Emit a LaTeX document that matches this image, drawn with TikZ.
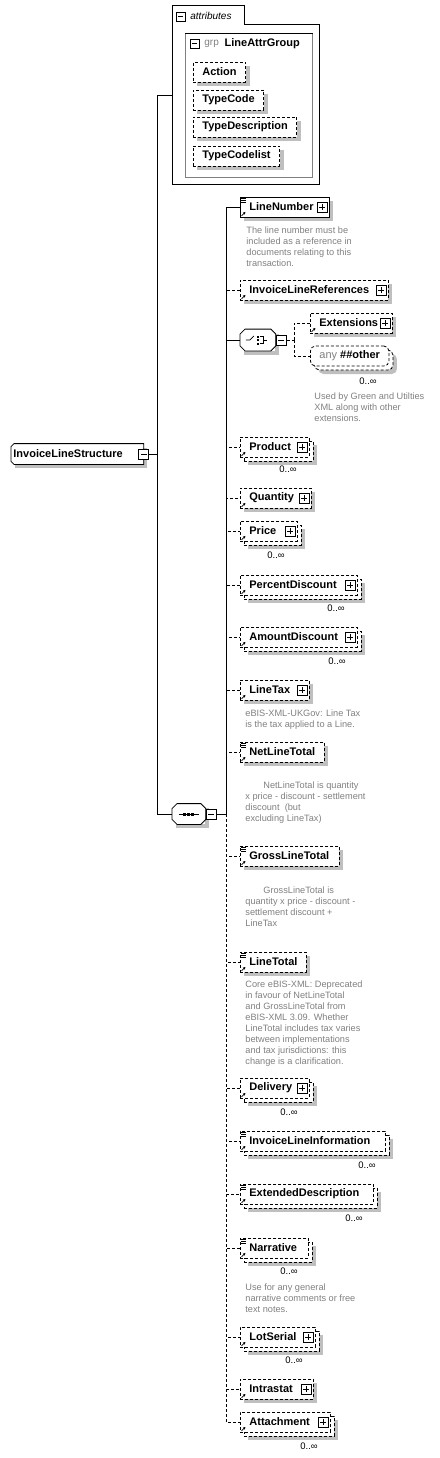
\documentclass[tikz,border=0pt]{standalone}
\usepackage{fontspec}
\setmainfont{Liberation Sans}
\usetikzlibrary{positioning,shadows,arrows.meta}

\tikzset{
    elem/.style={draw, fill=white, anchor=west, minimum height=20pt, inner xsep=9pt, inner ysep=0pt,
        align=left, font=\bfseries\fontsize{11}{13}\selectfont,
        drop shadow={shadow xshift=4pt, shadow yshift=-4pt, fill=black!25, opacity=1}},
    opt/.style={dash pattern=on 3pt off 2pt},
    multi/.style={drop shadow={shadow xshift=8pt, shadow yshift=-8pt, fill=black!25, opacity=1},
        copy shadow={shadow xshift=4pt, shadow yshift=-4pt, opacity=1}},
    minusbox/.style={draw, fill=white, minimum size=10pt, inner sep=0pt, path picture={
        \draw ([xshift=2pt]path picture bounding box.west) -- ([xshift=-2pt]path picture bounding box.east);}},
    plusbox/.style={draw, fill=white, minimum size=10pt, inner sep=0pt, path picture={
        \draw ([xshift=2pt]path picture bounding box.west) -- ([xshift=-2pt]path picture bounding box.east);
        \draw ([yshift=2pt]path picture bounding box.south) -- ([yshift=-2pt]path picture bounding box.north);}},
    compositor/.style={fill=white, anchor=west, inner sep=0pt,
        drop shadow={shadow xshift=4pt, shadow yshift=-4pt, fill=black!25, opacity=1}},
    occ/.style={inner sep=0pt, font=\fontsize{9.5}{11}\selectfont},
    note/.style={anchor=north west, inner sep=0pt, align=left, text=black!50, font=\fontsize{9.2}{11}\selectfont}
}

\begin{document}
\begin{tikzpicture}[x=1pt,y=-1pt,line width=0.8pt]
    \useasboundingbox (0,0) rectangle (439,1458);

    % root element
    \node[compositor, minimum height=20pt, text width=128pt, inner xsep=2pt, align=left,
        font=\bfseries\fontsize{11}{13}\selectfont] (root) at (11,454) {InvoiceLineStructure};
    \draw ([xshift=3pt]root.north west) -- (root.north east) -- (root.south east)
        -- ([xshift=3pt]root.south west) -- ([yshift=3pt]root.south west) -- ([yshift=-3pt]root.north west) -- cycle;
    \node[minusbox] (rootminus) at (root.east) {};
    \coordinate (rootfork) at (157,454);

    % attributes
    \draw (172,5) -- (244,5) -- (244,24) -- (319,24) -- (319,184) -- (172,184) -- cycle;
    \coordinate (attrpin) at (172,95);
    \node[minusbox, minimum size=9pt] (attrminus) at (180.5,16.5) {};
    \node[anchor=west, inner sep=0pt, font=\itshape\fontsize{10}{12}\selectfont] (attrlabel) at (190,15.5) {attributes};
    \node[draw=black!50, minimum width=127pt, minimum height=144pt, anchor=north west, inner sep=0pt] (grp) at (185,33) {};
    \draw (grp.north west) -- (grp.north east);
    \node[minusbox, minimum size=9pt] (grpminus) at (194.5,43.5) {};
    \node[anchor=west, inner sep=0pt, text=black!50, font=\fontsize{10}{12}\selectfont] (grplabel) at (204,43.5) {grp};
    \node[right=5pt of grplabel, inner sep=0pt, font=\bfseries\fontsize{11}{13}\selectfont] (grpname) {LineAttrGroup};
    \node[elem, opt] (action) at (193,72) {Action};
    \node[elem, opt] (typecode) at (193,100) {TypeCode};
    \node[elem, opt] (typedesc) at (193,127) {TypeDescription};
    \node[elem, opt] (typecodelist) at (193,156) {TypeCodelist};

    % sequence
    \node[compositor, minimum width=33pt, minimum height=20pt] (seq) at (172,814) {};
    \draw ([xshift=5pt]seq.north west) -- ([xshift=-5pt]seq.north east) -- ([yshift=-5pt]seq.north east)
        -- ([yshift=5pt]seq.south east) -- ([xshift=-5pt]seq.south east) -- ([xshift=5pt]seq.south west)
        -- ([yshift=5pt]seq.south west) -- ([yshift=-5pt]seq.north west) -- cycle;
    \draw ([xshift=-10pt]seq.center) -- ([xshift=10pt]seq.center);
    \foreach \dx in {-4,0,4}
        \fill ([xshift=\dx pt]seq.center) +(-1.5pt,-1.5pt) rectangle +(1.5pt,1.5pt);
    \node[minusbox, right=0pt of seq] (seqminus) {};
    \coordinate (seqfork) at (226,814);

    \draw (rootminus.east) -- (rootfork);
    \draw (rootfork) |- (attrpin);
    \draw (rootfork) |- (seq.west);
    \draw (seqminus.east) -- (seqfork);

    % children of the sequence
    \node[elem, text width=71pt] (linenumber) at (240,207) {LineNumber};
    \node[elem, opt, text width=130pt] (invlinerefs) at (240,290) {InvoiceLineReferences};

    \node[compositor, minimum width=35pt, minimum height=21pt] (choice) at (240,340) {};
    \draw ([xshift=5pt]choice.north west) -- ([xshift=-5pt]choice.north east) -- ([yshift=-5pt]choice.north east)
        -- ([yshift=5pt]choice.south east) -- ([xshift=-5pt]choice.south east) -- ([xshift=5pt]choice.south west)
        -- ([yshift=5pt]choice.south west) -- ([yshift=-5pt]choice.north west) -- cycle;
    \draw ([xshift=-12pt]choice.center) -- +(4pt,0) -- +(8pt,4pt);
    \foreach \dy in {3.5,0,-3.5}
        \fill ([shift={(0pt,\dy pt)}]choice.center) +(-1pt,-1pt) rectangle +(1pt,1pt);
    \draw ([shift={(2pt,3.5pt)}]choice.center) -- +(3pt,0) -- +(3pt,-7pt) -- +(0,-7pt);
    \draw ([xshift=5pt]choice.center) -- +(4pt,0);
    \node[minusbox, right=0pt of choice] (choiceminus) {};
    \coordinate (choicefork) at (294,340);
    \node[elem, opt, text width=64pt] (extensions) at (310,323) {Extensions};
    \node[elem, opt, multi, rounded corners=5pt, minimum width=78pt, align=center]
        (anyother) at (310,356) {\textcolor{black!50}{\mdseries any} \#\#other};

    \node[elem, opt, multi, text width=51pt] (product) at (240,447) {Product};
    \node[elem, opt, text width=53pt] (quantity) at (240,498) {Quantity};
    \node[elem, opt, multi, text width=39pt] (price) at (240,531) {Price};
    \node[elem, opt, multi, text width=99pt] (percentdisc) at (240,585) {PercentDiscount};
    \node[elem, opt, multi, text width=99pt] (amountdisc) at (240,637) {AmountDiscount};
    \node[elem, opt, text width=51pt] (linetax) at (240,690) {LineTax};
    \node[elem, opt, text width=66pt] (netlinetotal) at (240,752) {NetLineTotal};
    \node[elem, opt, text width=81pt] (grosslinetotal) at (240,856) {GrossLineTotal};
    \node[elem, opt, text width=48pt] (linetotal) at (240,962) {LineTotal};
    \node[elem, opt, multi, text width=51pt] (delivery) at (240,1088) {Delivery};
    \node[elem, opt, multi, text width=127pt] (invlineinfo) at (240,1141) {InvoiceLineInformation};
    \node[elem, opt, multi, text width=115pt] (extdesc) at (240,1194) {ExtendedDescription};
    \node[elem, opt, multi, text width=50pt] (narrative) at (240,1248) {Narrative};
    \node[elem, opt, multi, text width=57pt] (lotserial) at (240,1337) {LotSerial};
    \node[elem, opt, text width=55pt] (intrastat) at (240,1389) {Intrastat};
    \node[elem, opt, multi, text width=72pt] (attachment) at (240,1422) {Attachment};

    % expand boxes
    \foreach \n in {linenumber,invlinerefs,extensions,product,quantity,price,percentdisc,amountdisc,
        linetax,delivery,lotserial,intrastat,attachment}
        \node[plusbox, left=2pt of \n.east] (\n plus) {};

    % reference and content icons
    \foreach \n in {linenumber,invlinerefs,extensions,product,quantity,price,percentdisc,amountdisc,
        linetax,netlinetotal,grosslinetotal,linetotal,delivery,invlineinfo,extdesc,narrative,
        lotserial,intrastat,attachment}
        \draw[line width=0.7pt, -{Triangle[length=2.5pt,width=2.5pt]}] ([shift={(1.5pt,1.5pt)}]\n.south west) -- +(4pt,4pt);
    \foreach \n in {linenumber,netlinetotal,grosslinetotal,linetotal,invlineinfo,extdesc,narrative}
        \foreach \k in {2,4,6}
            \draw[line width=0.6pt] ([shift={(1pt,-\k pt)}]\n.north west) -- +(5pt,0);

    % connectors
    \foreach \n in {invlinerefs,product,quantity,price,percentdisc,amountdisc,linetax,netlinetotal,
        grosslinetotal,linetotal,delivery,invlineinfo,extdesc,narrative,lotserial,intrastat,attachment}
        \draw[opt] (seqfork) |- (\n.west);
    \draw (seqfork) |- (linenumber.west);
    \draw (seqfork) |- (choice.west);
    \draw[opt] (choiceminus.east) -- (choicefork);
    \draw[opt] (choicefork) |- (extensions.west);
    \draw[opt] (choicefork) |- (anyother.west);

    % occurrences
    \node[occ] (anyotherocc) at (368,381) {0..∞};
    \node[occ] (productocc) at (288,469) {0..∞};
    \node[occ] (priceocc) at (276,555) {0..∞};
    \node[occ] (percentdiscocc) at (336,608) {0..∞};
    \node[occ] (amountdiscocc) at (337,661) {0..∞};
    \node[occ] (deliveryocc) at (289,1112) {0..∞};
    \node[occ] (invlineinfoocc) at (367,1165) {0..∞};
    \node[occ] (extdescocc) at (354,1218) {0..∞};
    \node[occ] (narrativeocc) at (289,1271) {0..∞};
    \node[occ] (lotserialocc) at (294,1360) {0..∞};
    \node[occ] (attachmentocc) at (309,1446) {0..∞};

    % annotations
    \node[note] (linenumbernote) at (246,226) {The line number must be\\included as a reference in\\documents relating to this\\transaction.};
    \node[note] (choicenote) at (314,392) {Used by Green and Utilties\\XML along with other\\extensions.};
    \node[note] (linetaxnote) at (245,709) {eBIS-XML-UKGov: Line Tax\\is the tax applied to a Line.};
    \node[note] (netlinetotalnote) at (245,781) {\hspace*{18pt}NetLineTotal is quantity\\x price - discount - settlement\\discount \ (but\\excluding LineTax)};
    \node[note] (grosslinetotalnote) at (245,886) {\hspace*{18pt}GrossLineTotal is\\quantity x price - discount -\\settlement discount +\\LineTax};
    \node[note] (linetotalnote) at (245,980) {Core eBIS-XML: Deprecated\\in favour of NetLineTotal\\and GrossLineTotal from\\eBIS-XML 3.09. Whether\\LineTotal includes tax varies\\between implementations\\and tax jurisdictions: this\\change is a clarification.};
    \node[note] (narrativenote) at (245,1283) {Use for any general\\narrative comments or free\\text notes.};
\end{tikzpicture}
\end{document}
